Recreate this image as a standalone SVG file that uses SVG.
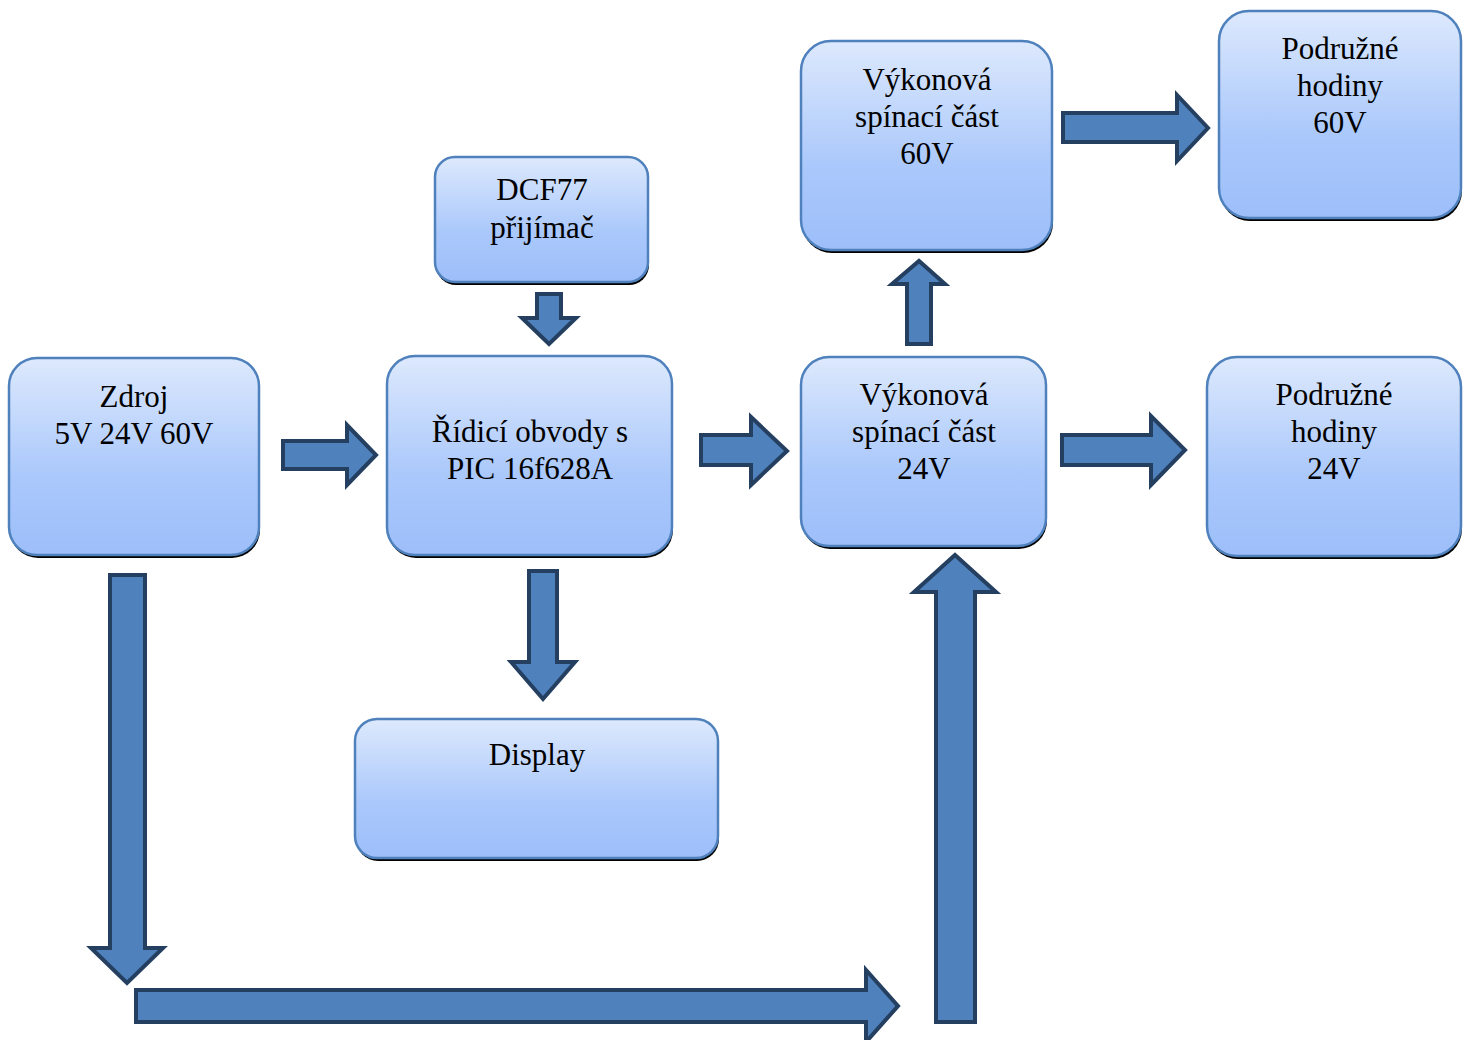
<svg xmlns="http://www.w3.org/2000/svg" width="1469" height="1040" viewBox="0 0 1469 1040">
<defs>
<linearGradient id="g" x1="0" y1="0" x2="0" y2="1">
<stop offset="0" stop-color="#dde9fd"/>
<stop offset="0.6" stop-color="#aac8fb"/>
<stop offset="1" stop-color="#9dbefa"/>
</linearGradient>
<filter id="sh" x="-10%" y="-10%" width="120%" height="130%">
<feGaussianBlur stdDeviation="0.5"/>
</filter>
</defs>
<style>
.box{fill:url(#g);stroke:#4f81bd;stroke-width:2.5}
.shadow{fill:#000;filter:url(#sh)}
.t{font-family:"Liberation Serif","Times New Roman",serif;font-size:31px;fill:#000;text-anchor:middle}
.ar{fill:#4f81bd;stroke:#243f60;stroke-width:4;stroke-linejoin:miter}
</style>
<rect width="1469" height="1040" fill="#fff"/>

<g id="connectors">
<polygon class="ar" points="283,441 347,441 347,425 376,455 347,485 347,469 283,469"/>
<polygon class="ar" points="701,435 751,435 751,417 787,451 751,485 751,465 701,465"/>
<polygon class="ar" points="1062,435 1151,435 1151,416 1185,450 1151,485 1151,465 1062,465"/>
<polygon class="ar" points="1063,113 1177,113 1177,95 1208,128 1177,161 1177,142 1063,142"/>
<polygon class="ar" points="537,294 561,294 561,318 576,318 549,344 522,318 537,318"/>
<polygon class="ar" points="907,344 931,344 931,284 945,284 919,261 892,284 907,284"/>
<polygon class="ar" points="529,571 557,571 557,662 575,662 543,699 511,662 529,662"/>
<polygon class="ar" points="110,575 145,575 145,948 163,948 127,983 91,948 110,948"/>
<polygon class="ar" points="136,990 866,990 866,970 898,1006 866,1042 866,1022 136,1022"/>
<polygon class="ar" points="936,1022 975,1022 975,592 996,592 955,555 914,592 936,592"/>
</g>

<g id="zdroj">
<rect class="shadow" x="10" y="361" width="250" height="197" rx="28"/>
<rect class="box" x="9" y="358" width="250" height="197" rx="28"/>
<text class="t" x="134" y="407">Zdroj</text>
<text class="t" x="134" y="444">5V 24V 60V</text>
</g>

<g id="ridici">
<rect class="shadow" x="388" y="359" width="285" height="199" rx="28"/>
<rect class="box" x="387" y="356" width="285" height="199" rx="28"/>
<text class="t" x="530" y="442">Řídicí obvody s</text>
<text class="t" x="530" y="479">PIC 16f628A</text>
</g>

<g id="dcf77">
<rect class="shadow" x="436" y="160" width="213" height="125" rx="20"/>
<rect class="box" x="435" y="157" width="213" height="125" rx="20"/>
<text class="t" x="542" y="200">DCF77</text>
<text class="t" x="542" y="238">přijímač</text>
</g>

<g id="display">
<rect class="shadow" x="356" y="722" width="363" height="139" rx="22"/>
<rect class="box" x="355" y="719" width="363" height="139" rx="22"/>
<text class="t" x="537" y="765">Display</text>
</g>

<g id="vykonova60">
<rect class="shadow" x="802" y="44" width="251" height="209" rx="30"/>
<rect class="box" x="801" y="41" width="251" height="209" rx="30"/>
<text class="t" x="927" y="90">Výkonová</text>
<text class="t" x="927" y="127">spínací část</text>
<text class="t" x="927" y="164">60V</text>
</g>

<g id="vykonova24">
<rect class="shadow" x="802" y="360" width="245" height="189" rx="28"/>
<rect class="box" x="801" y="357" width="245" height="189" rx="28"/>
<text class="t" x="924" y="405">Výkonová</text>
<text class="t" x="924" y="442">spínací část</text>
<text class="t" x="924" y="479">24V</text>
</g>

<g id="podruzne60">
<rect class="shadow" x="1220" y="14" width="242" height="207" rx="30"/>
<rect class="box" x="1219" y="11" width="242" height="207" rx="30"/>
<text class="t" x="1340" y="59">Podružné</text>
<text class="t" x="1340" y="96">hodiny</text>
<text class="t" x="1340" y="133">60V</text>
</g>

<g id="podruzne24">
<rect class="shadow" x="1208" y="360" width="254" height="199" rx="30"/>
<rect class="box" x="1207" y="357" width="254" height="199" rx="30"/>
<text class="t" x="1334" y="405">Podružné</text>
<text class="t" x="1334" y="442">hodiny</text>
<text class="t" x="1334" y="479">24V</text>
</g>
</svg>
